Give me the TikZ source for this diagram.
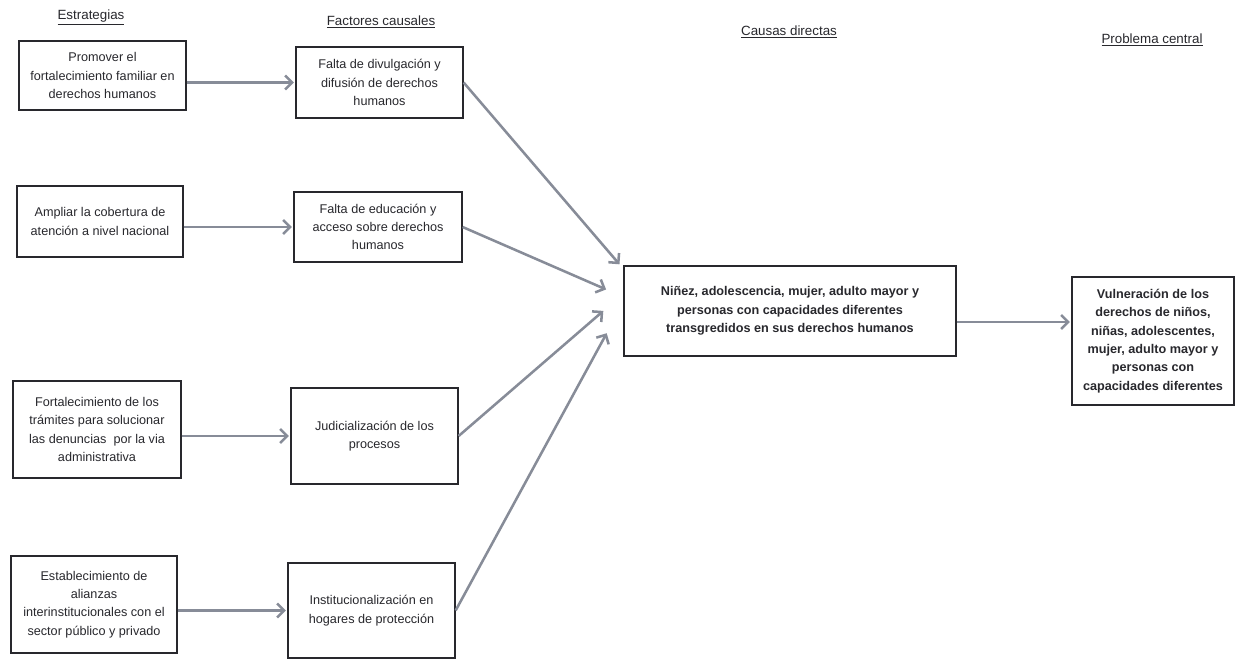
\documentclass[tikz,border=0pt]{standalone}
\usepackage{fontspec}
\setmainfont{Liberation Sans}
\usetikzlibrary{
arrows.meta,
calc,
positioning
}
\definecolor{inkgray}{RGB}{40,40,45}
\definecolor{arrowgray}{RGB}{135,140,152}
\tikzset{>=latex}

\begin{document}
\begin{tikzpicture}[x=0.025cm, y=-0.025cm,
	box/.style={draw=inkgray, line width=0.9pt, fill=white, align=center, text=inkgray, inner sep=2pt, font=\fontsize{9}{13}\selectfont},
	strong/.style={font=\fontsize{9}{13}\selectfont\bfseries},
	sz/.style 2 args={minimum width=#1*0.025cm, minimum height=#2*0.025cm},
	header/.style={text=inkgray, font=\fontsize{9.5}{11}\selectfont},
	arr/.style={draw=arrowgray, line width=1.8pt, -{Straight Barb[length=5pt,width=10pt]}, shorten >=1pt}]
	\fill[white] (0,0) rectangle (1242,660);
	\useasboundingbox (0,0) rectangle (1242,660);
	% column headers
	\node[header] (hEst) at (91,17) {\underline{Estrategias}};
	\node[header] (hFac) at (381,22) {\underline{Factores causales}};
	\node[header] (hCau) at (789,32) {\underline{Causas directas}};
	\node[header] (hPro) at (1152,40) {\underline{Problema central}};
	% estrategias
	\node[box, sz={167}{69}] (est1) at (102.5,75.5) {Promover el\\fortalecimiento familiar en\\derechos humanos};
	\node[box, sz={166}{71}] (est2) at (100,221.5) {Ampliar la cobertura de\\atención a nivel nacional};
	\node[box, sz={168}{97}] (est3) at (97,429.5) {Fortalecimiento de los\\trámites para solucionar\\las denuncias\ \ por la via\\administrativa};
	\node[box, sz={166}{97}] (est4) at (94,604.5) {Establecimiento de\\alianzas\\interinstitucionales con el\\sector público y privado};
	% factores causales
	\node[box, sz={167}{71}] (fac1) at (379.5,82.5) {Falta de divulgación y\\difusión de derechos\\humanos};
	\node[box, sz={168}{70}] (fac2) at (378,227) {Falta de educación y\\acceso sobre derechos\\humanos};
	\node[box, sz={167}{96}] (fac3) at (374.5,436) {Judicialización de los\\procesos};
	\node[box, sz={167}{95}] (fac4) at (371.5,610.5) {Institucionalización en\\hogares de protección};
	% causa directa y problema central
	\node[box, strong, sz={332}{90}] (causa) at (790,311) {Niñez, adolescencia, mujer, adulto mayor y\\personas con capacidades diferentes\\transgredidos en sus derechos humanos};
	\node[box, strong, sz={162}{128}] (prob) at (1153,341) {Vulneración de los\\derechos de niños,\\niñas, adolescentes,\\mujer, adulto mayor y\\personas con\\capacidades diferentes};
	% arrows
	\coordinate (in1) at ($(causa.north west)+(-3,0)$);
	\coordinate (in2) at ($(causa.west)+(-16,-21)$);
	\coordinate (in3) at ($(causa.west)+(-19,-1)$);
	\coordinate (in4) at ($(causa.west)+(-16,21)$);
	\foreach \i in {1,...,4} {
		\draw[arr] (est\i.east |- fac\i.west) -- (fac\i.west);
		\draw[arr] (fac\i.east) -- (in\i);
	}
	\coordinate (out) at ($(causa.east)+(0,11)$);
	\draw[arr] (out) -- (out -| prob.west);
\end{tikzpicture}
\end{document}
